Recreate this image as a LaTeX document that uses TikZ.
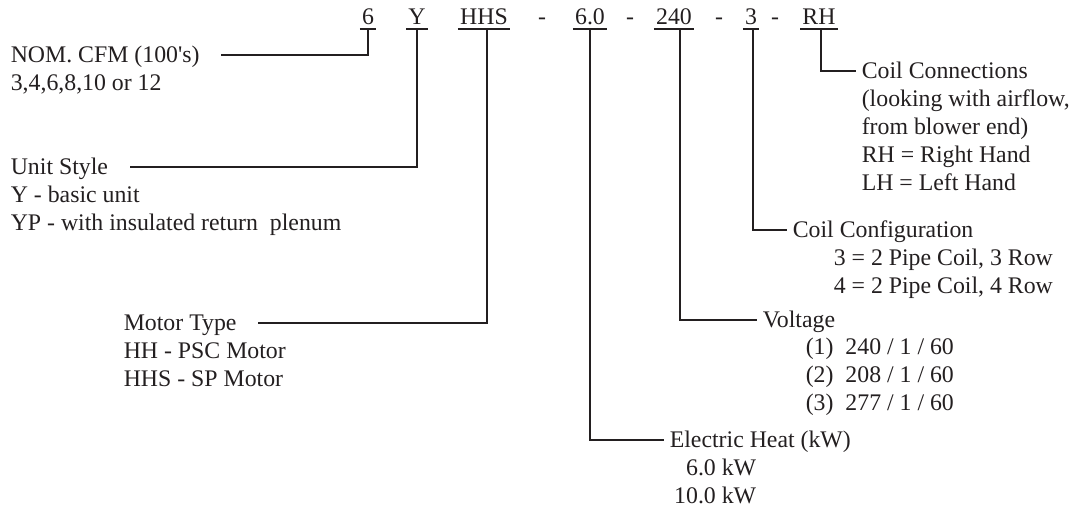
\documentclass[tikz,border=0pt]{standalone}
\usepackage{fontspec}
\setmainfont{Liberation Serif}
\usetikzlibrary{positioning}
\definecolor{ink}{RGB}{35,31,32}
\tikzset{
  code/.style={anchor=base, inner xsep=0.75pt, inner ysep=1.5pt, text depth=0pt},
  keytitle/.style={anchor=base west, inner sep=0pt, text height=8pt, text depth=0pt},
  keylist/.style={anchor=base west, inner sep=0pt, align=left},
}
\begin{document}
\begin{tikzpicture}[x=0.5pt, y=-0.5pt, font=\fontsize{11.9}{14}\selectfont, color=ink, line width=0.8pt]
  \useasboundingbox (0,0) rectangle (1071,512);
  % model number
  \node[code] (c6) at (368,25) {6}; \node[code] (cy) at (417,25) {Y};
  \node[code] (chhs) at (484,25) {HHS}; \node[code] (d1) at (542,25) {-};
  \node[code] (c60) at (590,25) {6.0}; \node[code] (d2) at (630,25) {-};
  \node[code] (c240) at (674,25) {240}; \node[code] (d3) at (719,25) {-};
  \node[code] (c3) at (751,25) {3}; \node[code] (d4) at (775,25) {-};
  \node[code] (crh) at (819,25) {RH};
  \foreach \n in {c6,cy,chhs,c60,c240,c3,crh}
    \draw (\n.south west) -- (\n.south east);

  % left side keys (a list is placed by its last line)
  \node[keytitle] (nomtitle) at (10,63) {NOM. CFM (100\textquotesingle s)};
  \node[keylist] (nomlist) at ([yshift=-14pt]nomtitle.base west) {3,4,6,8,10 or 12};
  \node[keytitle] (unittitle) at (10,175) {Unit Style};
  \node[keylist] (unitlist) at ([yshift=-28pt]unittitle.base west)
    {Y - basic unit\\YP - with insulated return~ plenum};
  \node[keytitle] (motortitle) at (123,331) {Motor Type};
  \node[keylist] (motorlist) at ([yshift=-28pt]motortitle.base west)
    {HH - PSC Motor\\HHS - SP Motor};

  % right side keys
  \node[keytitle] (heattitle) at (669,448) {Electric Heat (kW)};
  \node[keylist, anchor=base east, align=right] (heatlist) at (757,504)
    {6.0 kW\\10.0 kW};
  \node[keytitle] (volttitle) at (762,328) {Voltage};
  \node[keylist] (voltlist) at (805,411)
    {(1)~ 240 / 1 / 60\\(2)~ 208 / 1 / 60\\(3)~ 277 / 1 / 60};
  \node[keytitle] (cfgtitle) at (792,238) {Coil Configuration};
  \node[keylist] (cfglist) at (833,294)
    {3 = 2 Pipe Coil, 3 Row\\4 = 2 Pipe Coil, 4 Row};
  \node[keytitle] (conntitle) at (861,79) {Coil Connections};
  \node[keylist] (connlist) at ([yshift=-56pt]conntitle.base west)
    {(looking with airflow,\\from blower end)\\RH = Right Hand\\LH = Left Hand};

  % leaders
  \draw (c6.south) |- ([xshift=10.5pt]nomtitle.east);
  \draw (cy.south) |- ([xshift=10.5pt]unittitle.east);
  \draw ([xshift=1.5pt]chhs.south) |- ([xshift=10.5pt]motortitle.east);
  \draw (c60.south) |- ([xshift=-2.5pt]heattitle.west);
  \draw ([xshift=3pt]c240.south) |- ([xshift=-2.5pt]volttitle.west);
  \draw ([xshift=1pt]c3.south) |- ([xshift=-2.5pt]cfgtitle.west);
  \draw ([xshift=1pt]crh.south) |- ([xshift=-2.5pt]conntitle.west);
\end{tikzpicture}
\end{document}
